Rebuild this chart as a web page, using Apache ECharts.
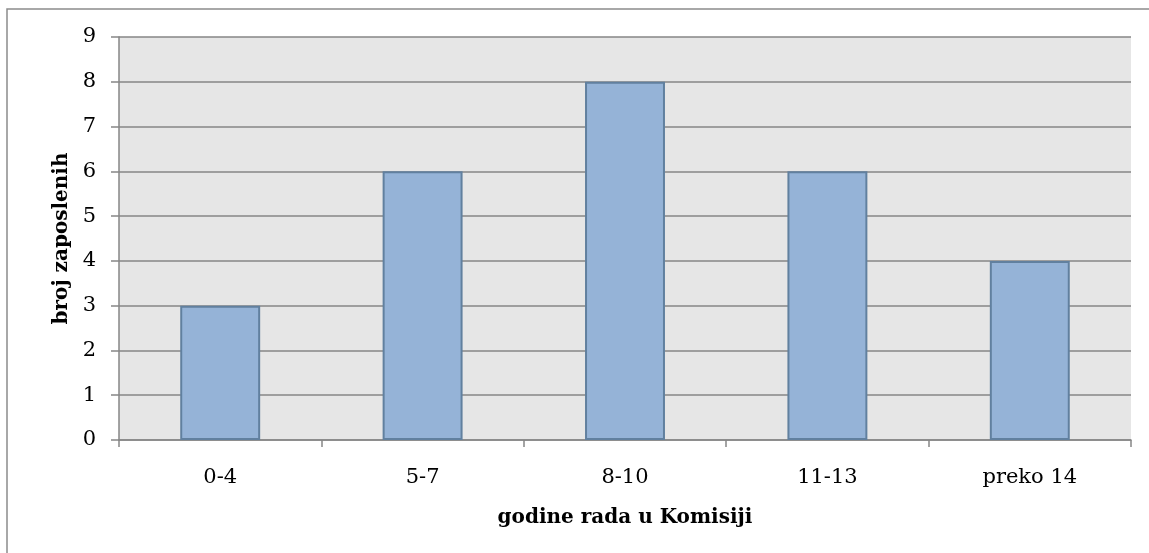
<!DOCTYPE html>
<html><head><meta charset="utf-8">
<script src="https://cdn.jsdelivr.net/npm/echarts@6/dist/echarts.min.js"></script>
<style>html,body{margin:0;padding:0;background:#fff}#c{width:1149px;height:553px}</style>
</head><body><div id="c"></div>
<script>
const categories = ['0-4', '5-7', '8-10', '11-13', 'preko 14'];
const values = [3, 6, 8, 6, 4];
const yTicks = [0, 1, 2, 3, 4, 5, 6, 7, 8, 9];
const xName = 'godine rada u Komisiji';
const yName = 'broj zaposlenih';

const FONT = '"DejaVu Serif", serif';
const chart = echarts.init(document.getElementById('c'), null, {renderer: 'canvas'});
chart.setOption({
  backgroundColor: '#ffffff',
  animation: false,
  graphic: [{
    type: 'rect', silent: true, z: -10,
    shape: {x: 7, y: 9, width: 1200, height: 700},
    style: {fill: 'none', stroke: '#8c8c8c', lineWidth: 1.5}
  }],
  grid: {left: 119, right: 18, top: 37, bottom: 113, show: true,
         backgroundColor: '#e6e6e6', borderWidth: 0},
  xAxis: {
    type: 'category', data: categories,
    name: xName, nameLocation: 'middle', nameGap: 68,
    nameTextStyle: {fontFamily: FONT, fontWeight: 'bold', fontSize: 20, color: '#000'},
    axisLine: {lineStyle: {color: '#868686', width: 1.5}},
    axisTick: {show: true, length: 7, lineStyle: {color: '#868686', width: 1.5}},
    axisLabel: {fontFamily: FONT, fontSize: 21, color: '#000', margin: 27}
  },
  yAxis: {
    type: 'value', min: 0, max: yTicks[yTicks.length - 1], interval: 1,
    name: yName, nameLocation: 'middle', nameGap: 47,
    nameTextStyle: {fontFamily: FONT, fontWeight: 'bold', fontSize: 20, color: '#000'},
    axisLine: {show: true, lineStyle: {color: '#868686', width: 1.5}},
    axisTick: {show: true, length: 8, lineStyle: {color: '#868686', width: 1.5}},
    axisLabel: {fontFamily: FONT, fontSize: 21, color: '#000', margin: 23},
    splitLine: {show: true, lineStyle: {color: '#868686', width: 1.5}}
  },
  series: [{
    type: 'bar', data: values, barWidth: '39.5%',
    itemStyle: {color: '#95b3d7', borderColor: '#61809f', borderWidth: 2}
  }]
});
</script></body></html>
